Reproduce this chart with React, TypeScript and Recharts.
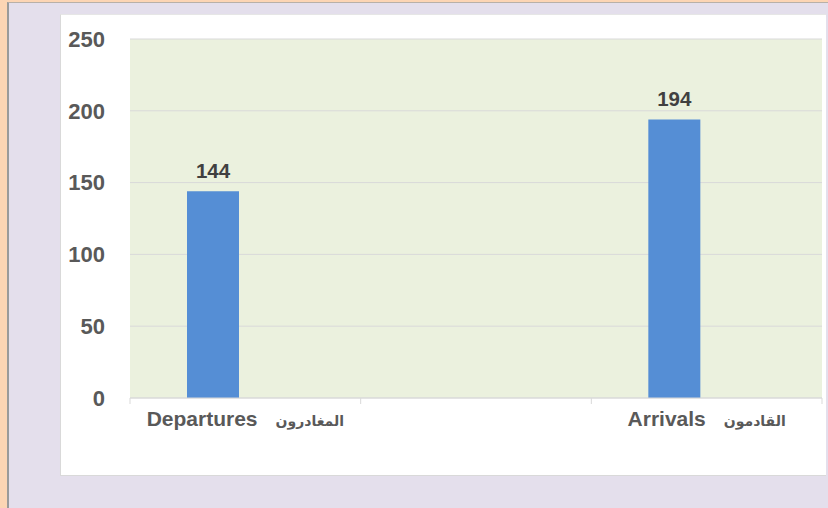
import React from 'react'
import { BarChart, Bar, XAxis, YAxis, CartesianGrid, LabelList } from 'recharts'

// categories (english + arabic caption), one empty slot in the middle
const categories = ['Departures', '', 'Arrivals']
const arabicLabels = ['المغادرون', '', 'القادمون']
const travellers = [144, null, 194]
const spareSeries = [null, null, null]
const yTicks = [0, 50, 100, 150, 200, 250]

const data = categories.map((name, i) => ({
  name,
  arabic: arabicLabels[i],
  travellers: travellers[i],
  spare: spareSeries[i],
}))

const CHART_W = 765
const CHART_H = 460
const MARGIN = { top: 24, right: 4, bottom: 0, left: 0 }
const Y_AXIS_W = 69
const X_AXIS_H = 77
const PLOT_W = CHART_W - MARGIN.left - MARGIN.right - Y_AXIS_W

const textColor = '#595959'
const fontStack = '"Liberation Sans", Arial, "DejaVu Sans", sans-serif'

const CategoryTick = (props: any) => {
  const { x, y, payload, index } = props
  const band = PLOT_W / categories.length
  const row = data[index] || {}
  const isLast = index === categories.length - 1
  return (
    <g>
      <line x1={x - band / 2} x2={x - band / 2} y1={y} y2={y + 6} stroke="#D9D9D9" />
      {isLast && <line x1={x + band / 2} x2={x + band / 2} y1={y} y2={y + 6} stroke="#D9D9D9" />}
      {payload.value !== '' && (
        <text
          x={x}
          y={y + 28}
          textAnchor="middle"
          fill={textColor}
          fontFamily={fontStack}
          fontWeight="bold"
          direction="ltr"
        >
          <tspan fontSize={21}>{payload.value}</tspan>
          <tspan dx={18} fontSize={14}>{row.arabic}</tspan>
        </text>
      )}
    </g>
  )
}

export default function App() {
  return (
    <div style={{ position: 'relative', width: 828, height: 508, background: '#FCD5B4', overflow: 'hidden' }}>
      <style>{'body{margin:0}'}</style>
      <div
        style={{
          position: 'absolute',
          left: 7,
          top: 2,
          width: 819,
          height: 506,
          background: '#E4DFEC',
          borderLeft: '2px solid #9A9A9A',
          borderTop: '1px solid #B8B0A8',
          borderRight: '1px solid #B0B0B0',
        }}
      />
      <div
        style={{
          position: 'absolute',
          left: 60,
          top: 14,
          width: CHART_W + 1,
          height: CHART_H + 2,
          background: '#FFFFFF',
          borderLeft: '1px solid #D9D9D9',
          borderBottom: '1px solid #D9D9D9',
          borderTop: '1px solid #E6E6E6',
          boxSizing: 'border-box',
        }}
      />
      <div style={{ position: 'absolute', left: 61, top: 15 }}>
        <BarChart
          width={CHART_W}
          height={CHART_H}
          data={data}
          margin={MARGIN}
          barSize={52}
          barGap={13}
        >
          <CartesianGrid vertical={false} stroke="#D9D9D9" fill="#EBF1DE" fillOpacity={1} />
          <XAxis
            dataKey="name"
            height={X_AXIS_H}
            axisLine={{ stroke: '#D9D9D9' }}
            tickLine={false}
            tickSize={0}
            tickMargin={0}
            interval={0}
            tick={<CategoryTick />}
          />
          <YAxis
            width={Y_AXIS_W}
            domain={[0, 250]}
            ticks={yTicks}
            axisLine={false}
            tickLine={false}
            tickSize={0}
            tickMargin={25}
            tick={{ fill: textColor, fontSize: 22, fontWeight: 'bold', fontFamily: fontStack }}
          />
          <Bar dataKey="travellers" fill="#558ED5" isAnimationActive={false}>
            <LabelList
              dataKey="travellers"
              position="top"
              offset={13}
              fill="#404040"
              fontSize={20.5}
              fontWeight="bold"
              fontFamily={fontStack}
            />
          </Bar>
          <Bar dataKey="spare" fill="#C0504D" isAnimationActive={false} />
        </BarChart>
      </div>
    </div>
  )
}
